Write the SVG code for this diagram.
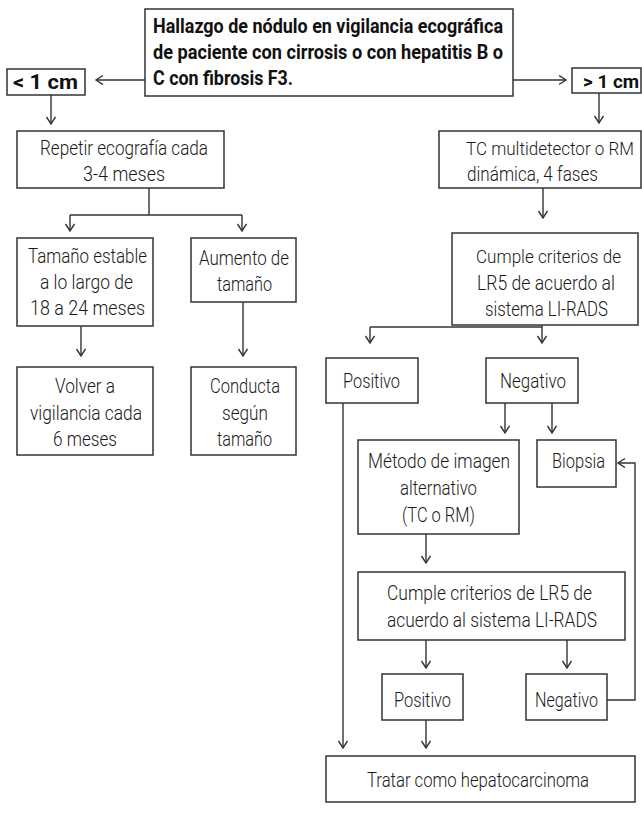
<svg xmlns="http://www.w3.org/2000/svg" width="642" height="819" viewBox="0 0 642 819">
<style>
.box{fill:#fff;stroke:#333;stroke-width:1.5}
.t{font-family:Roboto,"Liberation Sans",sans-serif;font-weight:300;font-size:21px;fill:#1a1a1a}
.b{font-family:Roboto,"Liberation Sans",sans-serif;font-weight:bold;font-size:21px;fill:#111}
.s{font-size:19px}
.e{text-anchor:end}
.m{text-anchor:middle}
.ln{fill:none;stroke:#333;stroke-width:1.4}
</style>
<defs>
<marker id="ah" markerUnits="userSpaceOnUse" markerWidth="12" markerHeight="12" refX="8" refY="5" orient="auto">
<path d="M1,0.5 L8,5 L1,9.5" fill="none" stroke="#333" stroke-width="1.4"/>
</marker>
</defs>
<rect width="642" height="819" fill="#fff"/>
<g id="connectors">
<path class="ln" d="M145,80 H96" marker-end="url(#ah)"/>
<path class="ln" d="M513,80 H566" marker-end="url(#ah)"/>
<path class="ln" d="M51,95 V124" marker-end="url(#ah)"/>
<path class="ln" d="M599,93 V123" marker-end="url(#ah)"/>
<path class="ln" d="M149,188 V215 M70,215 H242"/>
<path class="ln" d="M70,215 V231" marker-end="url(#ah)"/>
<path class="ln" d="M242,215 V231" marker-end="url(#ah)"/>
<path class="ln" d="M81,326 V356" marker-end="url(#ah)"/>
<path class="ln" d="M243,302 V356" marker-end="url(#ah)"/>
<path class="ln" d="M543,188 V218" marker-end="url(#ah)"/>
<path class="ln" d="M370,327 H542"/>
<path class="ln" d="M542,325 V343" marker-end="url(#ah)"/>
<path class="ln" d="M370,327 V343" marker-end="url(#ah)"/>
<path class="ln" d="M505,403 V433" marker-end="url(#ah)"/>
<path class="ln" d="M552,403 V433" marker-end="url(#ah)"/>
<path class="ln" d="M343,403 V748" marker-end="url(#ah)"/>
<path class="ln" d="M426,534 V563" marker-end="url(#ah)"/>
<path class="ln" d="M426,640 V668" marker-end="url(#ah)"/>
<path class="ln" d="M567,640 V668" marker-end="url(#ah)"/>
<path class="ln" d="M426,720 V748" marker-end="url(#ah)"/>
<path class="ln" d="M607,700 H635 V463 H618" marker-end="url(#ah)"/>
</g>
<g id="start">
<rect class="box" x="145" y="9" width="368" height="87"/>
<text class="b" x="153" y="33" textLength="350" lengthAdjust="spacingAndGlyphs">Hallazgo de nódulo en vigilancia ecográfica</text>
<text class="b" x="153" y="59" textLength="350" lengthAdjust="spacingAndGlyphs">de paciente con cirrosis o con hepatitis B o</text>
<text class="b" x="153" y="85" textLength="140" lengthAdjust="spacingAndGlyphs">C con fibrosis F3.</text>
</g>
<g id="lt1cm">
<rect class="box" x="7" y="69" width="78" height="26"/>
<text class="b" x="13" y="89" textLength="65" lengthAdjust="spacingAndGlyphs">&lt; 1 cm</text>
</g>
<g id="gt1cm">
<rect class="box" x="572" y="68" width="69" height="25"/>
<text class="b s e" x="639" y="88" textLength="56" lengthAdjust="spacingAndGlyphs">&gt; 1 cm</text>
</g>
<g id="repetir">
<rect class="box" x="17" y="131" width="207" height="57"/>
<text class="t" x="40" y="155" textLength="168" lengthAdjust="spacingAndGlyphs">Repetir ecografía cada</text>
<text class="t" x="83" y="181" textLength="82" lengthAdjust="spacingAndGlyphs">3-4 meses</text>
</g>
<g id="estable">
<rect class="box" x="17" y="238" width="136" height="88"/>
<text class="t" x="28" y="263" textLength="119" lengthAdjust="spacingAndGlyphs">Tamaño estable</text>
<text class="t" x="40" y="289" textLength="93" lengthAdjust="spacingAndGlyphs">a lo largo de</text>
<text class="t" x="30" y="315" textLength="115" lengthAdjust="spacingAndGlyphs">18 a 24 meses</text>
</g>
<g id="aumento">
<rect class="box" x="191" y="238" width="105" height="64"/>
<text class="t" x="199" y="265" textLength="90" lengthAdjust="spacingAndGlyphs">Aumento de</text>
<text class="t" x="217" y="291" textLength="55" lengthAdjust="spacingAndGlyphs">tamaño</text>
</g>
<g id="volver">
<rect class="box" x="17" y="367" width="136" height="88"/>
<text class="t" x="55" y="393" textLength="60" lengthAdjust="spacingAndGlyphs">Volver a</text>
<text class="t" x="30" y="420" textLength="112" lengthAdjust="spacingAndGlyphs">vigilancia cada</text>
<text class="t" x="53" y="446" textLength="64" lengthAdjust="spacingAndGlyphs">6 meses</text>
</g>
<g id="conducta">
<rect class="box" x="191" y="367" width="105" height="88"/>
<text class="t" x="210" y="393" textLength="70" lengthAdjust="spacingAndGlyphs">Conducta</text>
<text class="t" x="222" y="420" textLength="46" lengthAdjust="spacingAndGlyphs">según</text>
<text class="t" x="217" y="446" textLength="55" lengthAdjust="spacingAndGlyphs">tamaño</text>
</g>
<g id="tc">
<rect class="box" x="439" y="131" width="202" height="57"/>
<text class="t s e" x="634" y="155" textLength="168" lengthAdjust="spacingAndGlyphs">TC multidetector o RM</text>
<text class="t" x="467" y="181" textLength="131" lengthAdjust="spacingAndGlyphs">dinámica, 4 fases</text>
</g>
<g id="cumple1">
<rect class="box" x="452" y="233" width="186" height="92"/>
<text class="t s" x="476" y="263" textLength="145" lengthAdjust="spacingAndGlyphs">Cumple criterios de</text>
<text class="t" x="477" y="290" textLength="138" lengthAdjust="spacingAndGlyphs">LR5 de acuerdo al</text>
<text class="t" x="485" y="316" textLength="123" lengthAdjust="spacingAndGlyphs">sistema LI-RADS</text>
</g>
<g id="positivo1">
<rect class="box" x="326" y="358" width="92" height="45"/>
<text class="t" x="343" y="388" textLength="57" lengthAdjust="spacingAndGlyphs">Positivo</text>
</g>
<g id="negativo1">
<rect class="box" x="486" y="358" width="92" height="45"/>
<text class="t" x="500" y="388" textLength="66" lengthAdjust="spacingAndGlyphs">Negativo</text>
</g>
<g id="metodo">
<rect class="box" x="358" y="440" width="161" height="94"/>
<text class="t" x="368" y="468" textLength="142" lengthAdjust="spacingAndGlyphs">Método de imagen</text>
<text class="t" x="400" y="495" textLength="77" lengthAdjust="spacingAndGlyphs">alternativo</text>
<text class="t" x="402" y="522" textLength="73" lengthAdjust="spacingAndGlyphs">(TC o RM)</text>
</g>
<g id="biopsia">
<rect class="box" x="537" y="440" width="79" height="47"/>
<text class="t" x="552" y="468" textLength="53" lengthAdjust="spacingAndGlyphs">Biopsia</text>
</g>
<g id="cumple2">
<rect class="box" x="358" y="572" width="267" height="68"/>
<text class="t" x="387" y="600" textLength="205" lengthAdjust="spacingAndGlyphs">Cumple criterios de LR5 de</text>
<text class="t" x="387" y="627" textLength="210" lengthAdjust="spacingAndGlyphs">acuerdo al sistema LI-RADS</text>
</g>
<g id="positivo2">
<rect class="box" x="382" y="674" width="81" height="46"/>
<text class="t" x="394" y="707" textLength="57" lengthAdjust="spacingAndGlyphs">Positivo</text>
</g>
<g id="negativo2">
<rect class="box" x="526" y="674" width="81" height="46"/>
<text class="t" x="535" y="707" textLength="63" lengthAdjust="spacingAndGlyphs">Negativo</text>
</g>
<g id="tratar">
<rect class="box" x="326" y="756" width="309" height="46"/>
<text class="t m" x="478" y="787" textLength="222" lengthAdjust="spacingAndGlyphs">Tratar como hepatocarcinoma</text>
</g>
</svg>
